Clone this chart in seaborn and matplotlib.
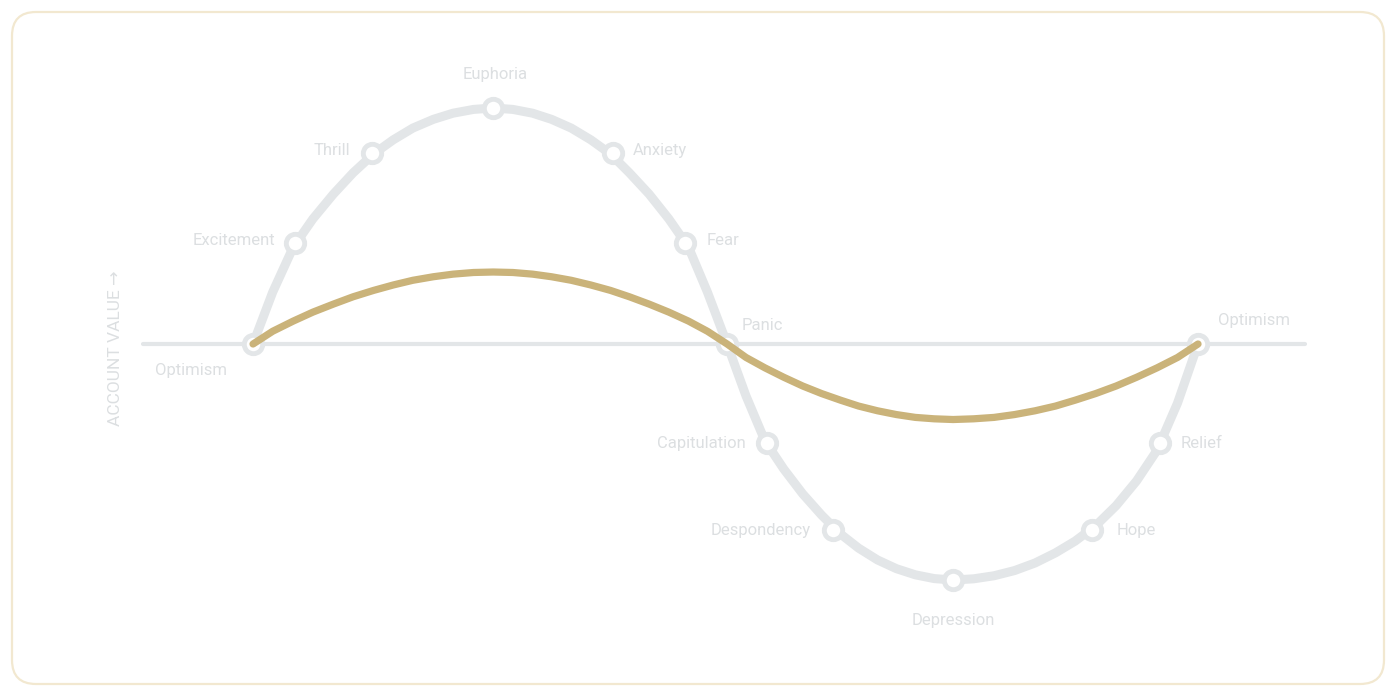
import matplotlib
matplotlib.use("Agg")
import matplotlib.pyplot as plt
import matplotlib.patches as mpatches
import matplotlib.transforms as mtransforms
import pandas as pd
import seaborn as sns

# Emotion cycle points (time in cycle units, account value scaled to +-1)
emotions = ["Optimism", "Excitement", "Thrill", "Euphoria", "Anxiety", "Fear", "Panic",
            "Capitulation", "Despondency", "Depression", "Hope", "Relief", "Optimism"]
emotion_x = [0, 0.53, 1.51, 3.05, 4.57, 5.49, 6.02, 6.53, 7.37, 8.89, 10.65, 11.52, 12.0]
emotion_y = [0, 0.43, 0.81, 1.0, 0.81, 0.43, 0, -0.42, -0.79, -1.0, -0.79, -0.42, 0]

# sample points along the two curves
curve_x = [0, 0.25, 0.51, 0.76, 1.02, 1.27, 1.53, 1.78, 2.03, 2.29, 2.54, 2.80, 3.05,
           3.30, 3.55, 3.79, 4.04, 4.29, 4.54, 4.78, 5.03, 5.28, 5.53, 5.77, 6.02,
           6.26, 6.50, 6.74, 6.98, 7.22, 7.46, 7.69, 7.93, 8.17, 8.41, 8.65, 8.89,
           9.15, 9.41, 9.67, 9.93, 10.19, 10.44, 10.70, 10.96, 11.22, 11.48, 11.74, 12.0]
emotion_curve = [0, 0.22, 0.41, 0.53, 0.635, 0.725, 0.805, 0.865, 0.915, 0.952, 0.978, 0.994, 1.0,
                 0.994, 0.978, 0.952, 0.915, 0.865, 0.805, 0.725, 0.635, 0.53, 0.41, 0.22, 0,
                 -0.22, -0.41, -0.53, -0.635, -0.725, -0.805, -0.865, -0.915, -0.952, -0.978, -0.994, -1.0,
                 -0.995, -0.982, -0.96, -0.928, -0.885, -0.835, -0.77, -0.685, -0.58, -0.45, -0.25, 0]
account_curve = [0, 0.054, 0.097, 0.135, 0.169, 0.200, 0.227, 0.250, 0.270, 0.285, 0.296, 0.303, 0.305,
                 0.303, 0.296, 0.285, 0.270, 0.250, 0.227, 0.200, 0.169, 0.135, 0.097, 0.054, 0,
                 -0.057, -0.101, -0.141, -0.178, -0.210, -0.238, -0.263, -0.283, -0.299, -0.311, -0.317, -0.32,
                 -0.317, -0.311, -0.299, -0.283, -0.263, -0.238, -0.210, -0.178, -0.141, -0.101, -0.057, 0]

# label placement: offset in pixels from the marker, alignment
label_pos = [(-62, -26, "center"), (-20, 2, "right"), (-22, 2, "right"), (2, 33, "center"),
             (20, 2, "left"), (21, 2, "left"), (15, 19, "left"), (-22, 0, "right"),
             (-23, 0, "right"), (0, -40, "center"), (25, 0, "left"), (20, 0, "left"),
             (20, 24, "left")]

GREY = "#e3e6e8"
TEXT = "#dcdfe1"
GOLD = "#cab37a"

sns.set_style("white")
plt.rcParams["font.family"] = ["Roboto", "DejaVu Sans"]

fig = plt.figure(figsize=(13.89, 6.88), dpi=100)
fig.patch.set_facecolor("white")

# card outline
card = mpatches.FancyBboxPatch((12, 4), 1372, 672, boxstyle="round,pad=0,rounding_size=24",
                               transform=mtransforms.IdentityTransform(),
                               facecolor="none", edgecolor="#f2e8d0", linewidth=1.6, zorder=-10)
fig.patches.append(card)

ax = fig.add_axes([0, 0, 1, 1])
ax.set_facecolor("none")
ax.set_xlim(-3.213, 14.425)
ax.set_ylim(-1.4576, 1.4576)
ax.axis("off")

ax.axhline(0, xmin=0.103, xmax=0.9395, color=GREY, lw=3, zorder=1)

df_curve = pd.DataFrame({"time": curve_x, "emotion": emotion_curve, "account": account_curve})
df_pts = pd.DataFrame({"time": emotion_x, "value": emotion_y, "label": emotions})

sns.lineplot(data=df_curve, x="time", y="emotion", color=GREY, lw=6.5, ax=ax, zorder=2,
             solid_capstyle="round")
sns.scatterplot(data=df_pts, x="time", y="value", s=175, color="white", edgecolor=GREY,
                linewidth=3.5, ax=ax, zorder=3)
sns.lineplot(data=df_curve, x="time", y="account", color=GOLD, lw=5.2, ax=ax, zorder=4,
             solid_capstyle="round")

for name, x, y, (dx, dy, ha) in zip(emotions, emotion_x, emotion_y, label_pos):
    ax.annotate(name, (x, y), xytext=(dx, dy), textcoords="offset pixels",
                ha=ha, va="center", fontsize=12, color=TEXT, zorder=5)

ax.text(0.083, 0.494, "ACCOUNT VALUE \u2192", transform=ax.transAxes, rotation=90,
        ha="center", va="center", fontsize=12.5, color=TEXT)

ax.set_xlabel("")
ax.set_ylabel("")

plt.savefig("out.png", dpi=100, facecolor="white")
plt.close()
